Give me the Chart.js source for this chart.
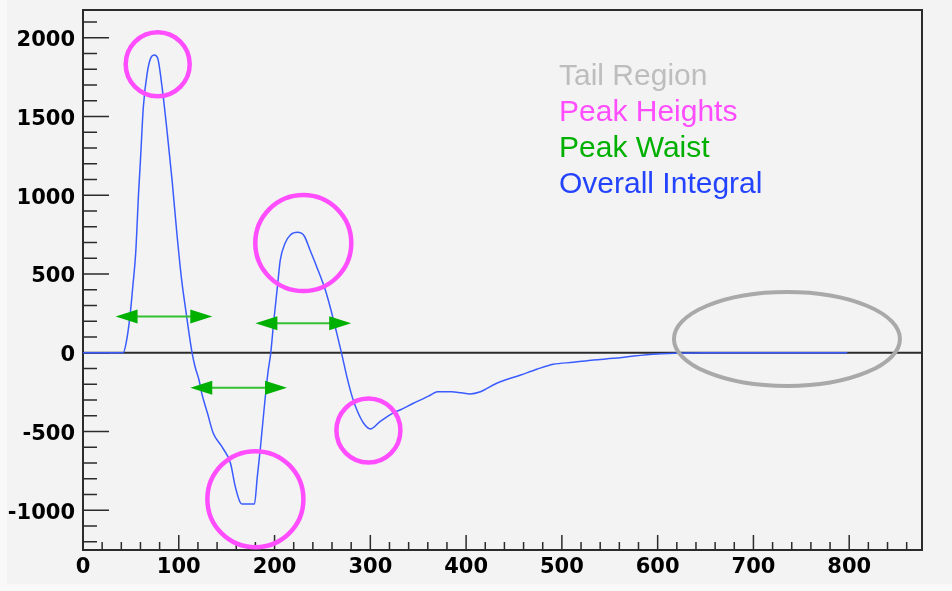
<!DOCTYPE html>
<html><head><meta charset="utf-8">
<script src="https://cdn.jsdelivr.net/npm/chart.js@4.4.1/dist/chart.umd.min.js"></script>
<style>html,body{margin:0;padding:0;background:#f9f9f9;overflow:hidden}canvas{display:block}</style>
</head><body>
<canvas id="c" width="952" height="591"></canvas>
<script>
// ---- data ----
const curveX = [0,42,45,49,52,55,58,60,63,67,71,74.5,78,82.5,88,93,98,103,108,111,114,117,121,124,130,136,145,154,159,164,166,179,182,185,189,193,196,199,203,206,211,216.5,224,231,237,244,253,258,265,270,276,281,286,293,300,310,323,331,345,356,363,370,385,395,404,415,432,457,474,491,512,533,554,575,600,617,640,660,798];
const curveY = [0,0,60,229,420,631,1010,1223,1560,1774,1875,1890,1869,1689,1393,1096,758,462,240,110,-4,-89,-170,-258,-385,-512,-597,-702,-851,-950,-961,-961,-787,-618,-364,-131,-4,190,419,589,695,747,764,741,652,546,398,292,123,-4,-165,-279,-364,-448,-484,-438,-385,-364,-321,-290,-269,-248,-248,-255,-262,-248,-194,-142,-105,-74,-61,-46,-36,-21,-8,-4,-2,0,0];
const xTickLabels = [0,100,200,300,400,500,600,700,800];
const yTickLabels = [-1000,-500,0,500,1000,1500,2000];
const peakX = [78,230,180,298];
const peakY = [1832,696,-930,-494];
const waistStart = [34,180,112];
const waistEnd = [135,280,213];
const waistLevel = [229,187,-222];
const tailX = [735];
const tailY = [87];
const legendLabels = ['Tail Region','Peak Heights','Peak Waist','Overall Integral'];

// ---- styles ----
const peakRadiusPx = [32,48,48,32];
const tailRadiusPx = [113,47];
const legendColors = ['#bdbdbd','#ff4dff','#00b000','#2343ff'];
const BG = '#f3f3f3';
const AXIS = '#2b2b2b';
const AREA = {left:83, top:10, right:922, bottom:550};

const annot = {
  id:'annot',
  afterLayout(chart){
    const A=AREA, xs=chart.scales.x, ys=chart.scales.y;
    chart.chartArea = {left:A.left, top:A.top, right:A.right, bottom:A.bottom, width:A.right-A.left, height:A.bottom-A.top};
    xs.left=A.left; xs.right=A.right; xs.width=A.right-A.left; xs.top=A.bottom; xs.bottom=chart.height; xs.height=chart.height-A.bottom;
    ys.left=0; ys.right=A.left; ys.width=A.left; ys.top=A.top; ys.bottom=A.bottom; ys.height=A.bottom-A.top;
    xs.configure(); ys.configure();
  },
  beforeDraw(chart){
    const c=chart.ctx; c.save();
    c.fillStyle='#f9f9f9'; c.fillRect(0,0,chart.width,chart.height);
    c.fillStyle=BG; c.fillRect(7,0,chart.width-7,584);
    c.restore();
  },
  beforeDatasetsDraw(chart){
    const c=chart.ctx, xs=chart.scales.x, ys=chart.scales.y, a=chart.chartArea;
    c.save();
    c.strokeStyle=AXIS; c.lineWidth=2;
    const y0=ys.getPixelForValue(0);
    c.beginPath(); c.moveTo(a.left,y0); c.lineTo(a.right,y0); c.stroke();
    c.strokeRect(a.left,a.top,a.right-a.left,a.bottom-a.top);
    c.lineWidth=1.5;
    c.beginPath();
    for(let v=-1200; v<=2100; v+=100){
      const p=ys.getPixelForValue(v); const L=(v%500===0)?26:14;
      c.moveTo(a.left,p); c.lineTo(a.left+L,p);
    }
    for(let v=0; v<=860; v+=20){
      const p=xs.getPixelForValue(v); const L=(v%100===0)?15:8;
      c.moveTo(p,a.bottom); c.lineTo(p,a.bottom-L);
    }
    c.stroke();
    c.restore();
  },
  afterDatasetsDraw(chart){
    const c=chart.ctx, xs=chart.scales.x, ys=chart.scales.y;
    c.save();
    for(let i=0;i<waistStart.length;i++){
      const x1=xs.getPixelForValue(waistStart[i]), x2=xs.getPixelForValue(waistEnd[i]), y=ys.getPixelForValue(waistLevel[i]);
      c.strokeStyle='#33c033'; c.lineWidth=2;
      c.beginPath(); c.moveTo(x1+10,y); c.lineTo(x2-10,y); c.stroke();
      c.fillStyle='#00b000';
      c.beginPath(); c.moveTo(x1,y); c.lineTo(x1+22,y-7); c.lineTo(x1+22,y+7); c.closePath(); c.fill();
      c.beginPath(); c.moveTo(x2,y); c.lineTo(x2-22,y-7); c.lineTo(x2-22,y+7); c.closePath(); c.fill();
    }
    c.strokeStyle='#a9a9a9'; c.lineWidth=4;
    for(let i=0;i<tailX.length;i++){
      c.beginPath(); c.ellipse(xs.getPixelForValue(tailX[i]), ys.getPixelForValue(tailY[i]), tailRadiusPx[0], tailRadiusPx[1], 0, 0, Math.PI*2); c.stroke();
    }
    c.font='30px "Liberation Sans", Arial, sans-serif';
    c.textBaseline='alphabetic'; c.textAlign='left';
    for(let i=0;i<legendLabels.length;i++){
      c.fillStyle=legendColors[i];
      c.fillText(legendLabels[i], 559, 85+i*36);
    }
    c.restore();
  }
};

new Chart(document.getElementById('c'), {
  data:{
    datasets:[
      { type:'line', label:'Overall Integral', order:2,
        data: curveX.map((x,i)=>({x:x,y:curveY[i]})),
        borderColor:'#3a5cff', borderWidth:1.5, pointRadius:0, fill:false,
        cubicInterpolationMode:'monotone', clip:false },
      { type:'bubble', label:'Peak Heights', order:1,
        data: peakX.map((x,i)=>({x:x,y:peakY[i],r:peakRadiusPx[i]})),
        borderColor:'#ff4dff', backgroundColor:'rgba(0,0,0,0)', borderWidth:4.5, clip:false }
    ]
  },
  options:{
    responsive:false, animation:false, devicePixelRatio:1, events:[],
    layout:{padding:0},
    plugins:{legend:{display:false}, tooltip:{enabled:false}},
    scales:{
      x:{ type:'linear', min:0, max:876,
        afterBuildTicks(s){ s.ticks = xTickLabels.map(v=>({value:v})); },
        grid:{display:false, drawTicks:false}, border:{display:false},
        ticks:{ color:'#000', padding:5, maxRotation:0, autoSkip:false, callback:v=>String(v),
          font:{family:'"DejaVu Sans"', weight:'bold', size:21} } },
      y:{ type:'linear', min:-1253, max:2176,
        afterBuildTicks(s){ s.ticks = yTickLabels.map(v=>({value:v})); },
        grid:{display:false, drawTicks:false}, border:{display:false},
        ticks:{ color:'#000', padding:8, autoSkip:false, labelOffset:3, callback:v=>String(v),
          font:{family:'"DejaVu Sans"', weight:'bold', size:21} } }
    }
  },
  plugins:[annot]
});
</script>
</body></html>
